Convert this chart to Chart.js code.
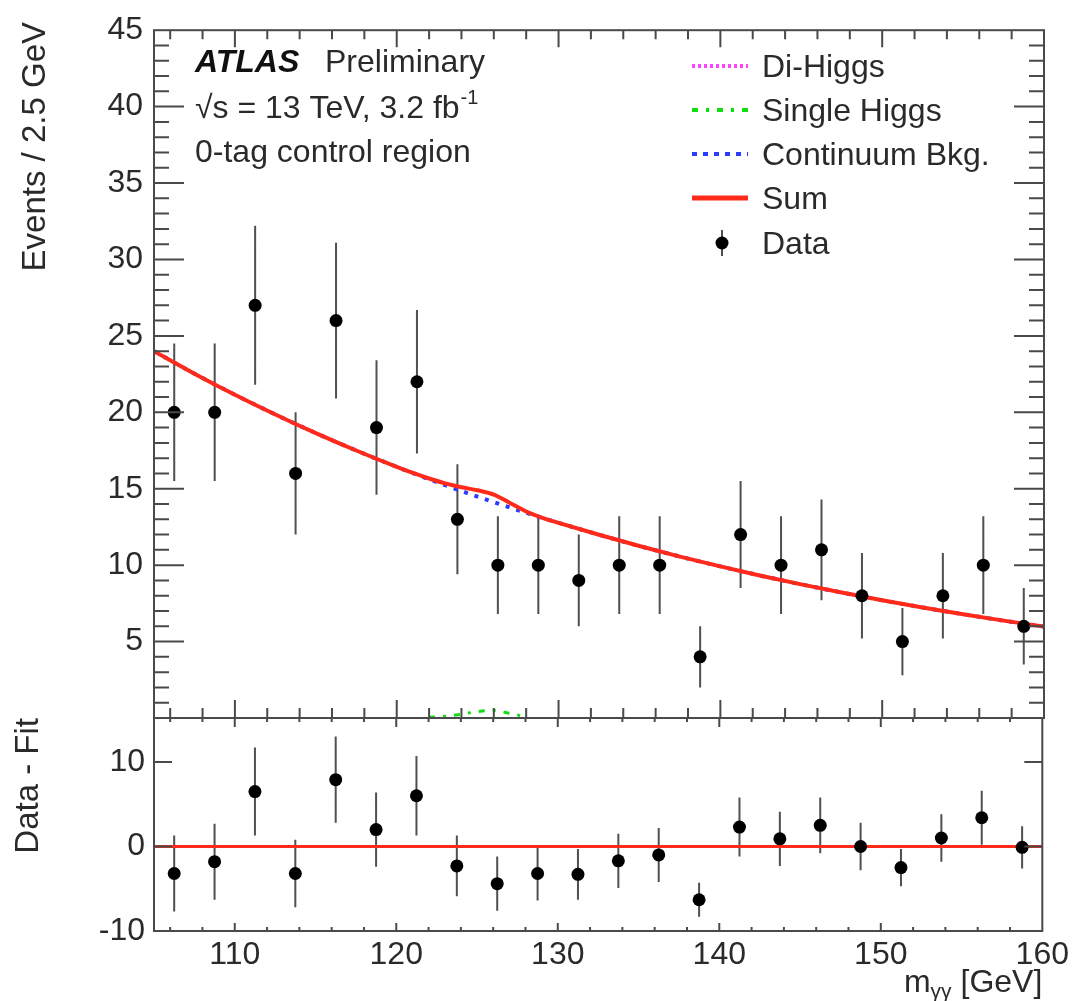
<!DOCTYPE html>
<html>
<head>
<meta charset="utf-8">
<title>m_yy 0-tag control region</title>
<script src="https://cdn.jsdelivr.net/npm/chart.js@4.4.1/dist/chart.umd.min.js"></script>
<style>
    html, body { margin: 0; padding: 0; background: #fff; }
    #wrap { position: relative; width: 1074px; height: 1001px; }
    #wrap canvas { position: absolute; left: 0; top: 0; }
</style>
</head>
<body>
<div id="wrap">
    <canvas id="ratioChart" width="1074" height="1001"></canvas>
    <canvas id="mainChart" width="1074" height="1001"></canvas>
</div>
<script>
// Data points, 2.5 GeV bins
const binCenters = [106.25, 108.75, 111.25, 113.75, 116.25, 118.75, 121.25, 123.75, 126.25, 128.75, 131.25,
                    133.75, 136.25, 138.75, 141.25, 143.75, 146.25, 148.75, 151.25, 153.75, 156.25, 158.75];
const eventCounts = [20, 20, 27, 16, 26, 19, 22, 13, 10, 10, 9, 10, 10, 4, 12, 10, 11, 8, 5, 8, 10, 6];
const eventErrors = [4.5, 4.5, 5.2, 4.0, 5.1, 4.4, 4.7, 3.6, 3.2, 3.2, 3.0, 3.2, 3.2, 2.0, 3.5, 3.2, 3.3, 2.8, 2.2, 2.8, 3.2, 2.5];
const residuals = [-3.2, -1.8, 6.5, -3.2, 7.9, 2.0, 6.0, -2.3, -4.4, -3.2, -3.3, -1.7, -1.0, -6.3, 2.3, 0.9, 2.5, 0.0, -2.5, 1.0, 3.4, -0.1];

// Fit curves
const fitMass = [105, 107.5, 110, 112.5, 115, 117.5, 120, 121, 122, 123, 124, 125, 126, 127, 128, 129, 130,
                 132.5, 135, 137.5, 140, 142.5, 145, 147.5, 150, 152.5, 155, 157.5, 160];
const continuumFit = [24.0, 22.53, 21.15, 19.86, 18.64, 17.5, 16.43, 16.02, 15.62, 15.23, 14.85, 14.48, 14.12, 13.77, 13.43, 13.09, 12.77,
                      11.99, 11.25, 10.56, 9.92, 9.31, 8.74, 8.21, 7.7, 7.23, 6.79, 6.37, 5.98];
const sumFit = [24.0, 22.53, 21.15, 19.86, 18.64, 17.5, 16.43, 16.03, 15.67, 15.35, 15.1, 14.9, 14.62, 14.07, 13.51, 13.1, 12.77,
                11.99, 11.25, 10.56, 9.92, 9.31, 8.74, 8.21, 7.7, 7.23, 6.79, 6.37, 5.98];
const higgsMass = [122, 123, 124, 125, 126, 127, 128];
const singleHiggsFit = [0.05, 0.12, 0.25, 0.42, 0.5, 0.3, 0.08];
const zeroLine = [[105, 0], [160, 0]];

// Axis ticks
const massTicks = [110, 120, 130, 140, 150, 160];
const eventTicks = [5, 10, 15, 20, 25, 30, 35, 40, 45];
const residualTicks = [-10, 0, 10];

const FONT = "'Liberation Sans', Arial, Helvetica, sans-serif";
const TEXT_COLOR = '#2a2a2a';
const FRAME_COLOR = '#4a4a4a';

Chart.defaults.font.family = FONT;
Chart.defaults.font.size = 32;
Chart.defaults.color = TEXT_COLOR;

const toPoints = (xs, ys) => xs.map((x, i) => ({ x: x, y: ys[i] }));

// Vertical error bars through the library scales
function drawErrorBars(chart, values, errors) {
    const ctx = chart.ctx;
    const xs = chart.scales.x, ys = chart.scales.y;
    ctx.save();
    ctx.strokeStyle = '#505050';
    ctx.lineWidth = 2;
    ctx.beginPath();
    binCenters.forEach((m, i) => {
        const px = xs.getPixelForValue(m);
        ctx.moveTo(px, ys.getPixelForValue(values[i] - errors[i]));
        ctx.lineTo(px, ys.getPixelForValue(values[i] + errors[i]));
    });
    ctx.stroke();
    ctx.restore();
}

// Frame with inner tick marks (ROOT style)
function drawFrame(chart, xLen, yTicks) {
    const ctx = chart.ctx, a = chart.chartArea;
    const xs = chart.scales.x, ys = chart.scales.y;
    ctx.save();
    ctx.strokeStyle = FRAME_COLOR;
    ctx.lineWidth = 2;
    ctx.strokeRect(a.left, a.top, a.right - a.left, a.bottom - a.top);
    ctx.beginPath();
    for (let m = 106; m < 160; m += 2) {
        const major = m % 10 === 0;
        const px = xs.getPixelForValue(m);
        ctx.moveTo(px, a.top);
        ctx.lineTo(px, a.top + (major ? xLen.top[0] : xLen.top[1]));
        ctx.moveTo(px, a.bottom);
        ctx.lineTo(px, a.bottom - (major ? xLen.bottom[0] : xLen.bottom[1]));
    }
    yTicks.forEach(([v, len]) => {
        const py = ys.getPixelForValue(v);
        ctx.moveTo(a.left, py);
        ctx.lineTo(a.left + len, py);
        ctx.moveTo(a.right, py);
        ctx.lineTo(a.right - len, py);
    });
    ctx.stroke();
    ctx.restore();
}

function drawVerticalTitle(ctx, text, x, yEnd) {
    ctx.save();
    ctx.translate(x, yEnd);
    ctx.rotate(-Math.PI / 2);
    ctx.font = '33px ' + FONT;
    ctx.fillStyle = TEXT_COLOR;
    ctx.textAlign = 'right';
    ctx.textBaseline = 'middle';
    ctx.fillText(text, 0, 0);
    ctx.restore();
}

const mainDecor = {
    id: 'mainDecor',
    beforeDatasetsDraw(chart) {
        drawErrorBars(chart, eventCounts, eventErrors);
    },
    afterDraw(chart) {
        const ctx = chart.ctx;
        const yTicks = [];
        for (let v = 1; v < 45; v++) yTicks.push([v, v % 5 === 0 ? 30 : 15]);
        drawFrame(chart, { top: [17, 9], bottom: [18, 10] }, yTicks);

        drawVerticalTitle(ctx, 'Events / 2.5 GeV', 36, 22);

        // ATLAS label
        ctx.save();
        ctx.fillStyle = TEXT_COLOR;
        ctx.textBaseline = 'alphabetic';
        ctx.font = 'italic bold 32px ' + FONT;
        ctx.fillStyle = '#111';
        ctx.fillText('ATLAS', 195, 72);
        ctx.fillStyle = TEXT_COLOR;
        ctx.font = '32px ' + FONT;
        ctx.fillText('Preliminary', 325, 72);
        const line2 = '\u221As = 13 TeV, 3.2 fb';
        ctx.fillText(line2, 195, 118);
        const w2 = ctx.measureText(line2).width;
        ctx.font = '20px ' + FONT;
        ctx.fillText('-1', 195 + w2 + 1, 104);
        ctx.font = '32px ' + FONT;
        ctx.fillText('0-tag control region', 195, 162);

        // Legend
        const rows = [
            { label: 'Di-Higgs', y: 66, color: '#ff44ff', dash: [3, 3], width: 4 },
            { label: 'Single Higgs', y: 110, color: '#11dd11', dash: [6, 8, 3, 8], width: 4 },
            { label: 'Continuum Bkg.', y: 154, color: '#2b3bff', dash: [5, 6], width: 4 },
            { label: 'Sum', y: 198, color: '#ff2a1a', dash: [], width: 5 },
            { label: 'Data', y: 243, color: '#000', dash: null, width: 2 }
        ];
        rows.forEach(r => {
            if (r.dash) {
                ctx.beginPath();
                ctx.setLineDash(r.dash);
                ctx.strokeStyle = r.color;
                ctx.lineWidth = r.width;
                ctx.moveTo(692, r.y);
                ctx.lineTo(748, r.y);
                ctx.stroke();
                ctx.setLineDash([]);
            } else {
                ctx.beginPath();
                ctx.strokeStyle = '#505050';
                ctx.lineWidth = 2;
                ctx.moveTo(722, r.y - 13);
                ctx.lineTo(722, r.y + 13);
                ctx.stroke();
                ctx.beginPath();
                ctx.fillStyle = '#000';
                ctx.arc(722, r.y, 6.5, 0, Math.PI * 2);
                ctx.fill();
            }
            ctx.fillStyle = TEXT_COLOR;
            ctx.font = '32px ' + FONT;
            ctx.fillText(r.label, 762, r.y + 11);
        });
        ctx.restore();
    }
};

const ratioDecor = {
    id: 'ratioDecor',
    beforeDatasetsDraw(chart) {
        drawErrorBars(chart, residuals, eventErrors);
    },
    afterDraw(chart) {
        const ctx = chart.ctx;
        drawFrame(chart, { top: [9, 4], bottom: [8, 4] }, residualTicks.map(v => [v, 18]));
        drawVerticalTitle(ctx, 'Data - Fit', 29, 718);

        // x axis title, aligned to the right end
        ctx.save();
        ctx.fillStyle = TEXT_COLOR;
        ctx.textBaseline = 'alphabetic';
        ctx.font = '32px ' + FONT;
        const wm = ctx.measureText('m').width;
        const wg = ctx.measureText(' [GeV]').width;
        ctx.font = '21px ' + FONT;
        const ws = ctx.measureText('\u03B3\u03B3').width;
        let x0 = chart.chartArea.right - wm - ws - wg;
        ctx.font = '32px ' + FONT;
        ctx.fillText('m', x0, 992);
        ctx.font = '21px ' + FONT;
        ctx.fillText('\u03B3\u03B3', x0 + wm, 998);
        ctx.font = '32px ' + FONT;
        ctx.fillText(' [GeV]', x0 + wm + ws, 992);
        ctx.restore();
    }
};

const fixedTicks = values => scale => { scale.ticks = values.map(v => ({ value: v })); };

// Upper panel: events
new Chart(document.getElementById('mainChart'), {
    type: 'scatter',
    data: {
        datasets: [
            {
                label: 'Data',
                data: toPoints(binCenters, eventCounts),
                pointRadius: 6.5,
                pointBackgroundColor: '#000',
                pointBorderWidth: 0,
                order: 0
            },
            {
                label: 'Sum',
                data: toPoints(fitMass, sumFit),
                showLine: true,
                pointRadius: 0,
                borderColor: '#ff2a1a',
                borderWidth: 4,
                cubicInterpolationMode: 'monotone',
                order: 1
            },
            {
                label: 'Continuum Bkg.',
                data: toPoints(fitMass, continuumFit),
                showLine: true,
                pointRadius: 0,
                borderColor: '#2b3bff',
                borderWidth: 4,
                borderDash: [4, 7],
                cubicInterpolationMode: 'monotone',
                order: 2
            },
            {
                label: 'Single Higgs',
                data: toPoints(higgsMass, singleHiggsFit),
                showLine: true,
                pointRadius: 0,
                borderColor: '#11dd11',
                borderWidth: 3,
                borderDash: [6, 8, 3, 8],
                cubicInterpolationMode: 'monotone',
                order: 3
            },
            {
                label: 'Di-Higgs',
                data: [],
                showLine: true,
                pointRadius: 0,
                borderColor: '#ff44ff',
                borderDash: [3, 3],
                order: 4
            }
        ]
    },
    options: {
        responsive: false,
        animation: false,
        layout: { padding: { top: 23, right: 30, bottom: 283, left: 0 } },
        plugins: { legend: { display: false }, tooltip: { enabled: false } },
        scales: {
            x: {
                type: 'linear', min: 105, max: 160,
                grid: { display: false, drawTicks: false },
                border: { display: false },
                ticks: { display: false },
                afterFit(scale) { scale.height = 0; }
            },
            y: {
                min: 0, max: 45,
                grid: { display: false, drawTicks: false },
                border: { display: false },
                ticks: { padding: 11 },
                afterBuildTicks: fixedTicks(eventTicks),
                afterFit(scale) { scale.width = 154; }
            }
        }
    },
    plugins: [mainDecor]
});

// Lower panel: data - fit
new Chart(document.getElementById('ratioChart'), {
    type: 'scatter',
    data: {
        datasets: [
            {
                label: 'Data - Fit',
                data: toPoints(binCenters, residuals),
                pointRadius: 6.5,
                pointBackgroundColor: '#000',
                pointBorderWidth: 0,
                order: 0
            },
            {
                label: 'Zero',
                data: zeroLine.map(p => ({ x: p[0], y: p[1] })),
                showLine: true,
                pointRadius: 0,
                borderColor: '#ff2a1a',
                borderWidth: 3,
                order: 1
            }
        ]
    },
    options: {
        responsive: false,
        animation: false,
        layout: { padding: { top: 718, right: 30, bottom: 0, left: 0 } },
        plugins: { legend: { display: false }, tooltip: { enabled: false } },
        scales: {
            x: {
                type: 'linear', min: 105, max: 160,
                grid: { display: false, drawTicks: false },
                border: { display: false },
                ticks: { padding: 5 },
                afterBuildTicks: fixedTicks(massTicks),
                afterFit(scale) { scale.height = 70; }
            },
            y: {
                min: -10, max: 15.2,
                grid: { display: false, drawTicks: false },
                border: { display: false },
                ticks: { padding: 9 },
                afterBuildTicks: fixedTicks(residualTicks),
                afterFit(scale) { scale.width = 154; }
            }
        }
    },
    plugins: [ratioDecor]
});
</script>
</body>
</html>
